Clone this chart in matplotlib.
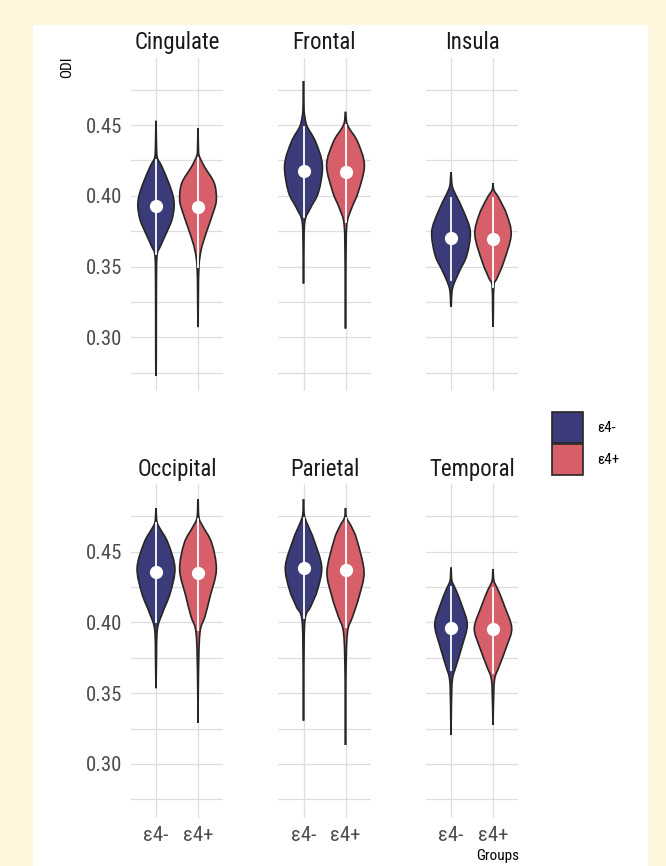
import matplotlib
matplotlib.use('Agg')
import matplotlib.pyplot as plt
import numpy as np
from matplotlib import font_manager
from matplotlib.path import Path
from matplotlib.patches import PathPatch, Patch, Rectangle

regions = ['Cingulate', 'Frontal', 'Insula', 'Occipital', 'Parietal', 'Temporal']
groups = ['ε4-', 'ε4+']
colors = ['#3b3b7a', '#d65f6a']

yticks = [0.30, 0.35, 0.40, 0.45]
yminor = [0.275, 0.325, 0.375, 0.425, 0.475]

# median (white dot) per region
median_neg = [0.3925, 0.4175, 0.3699, 0.4354, 0.4383, 0.3959]
median_pos = [0.3920, 0.4170, 0.3694, 0.4347, 0.4371, 0.3955]

# white line (low, high) per region
whisker_neg = [(0.359, 0.4254), (0.3852, 0.4488), (0.3405, 0.3982),
               (0.4005, 0.470), (0.403, 0.4736), (0.3664, 0.425)]
whisker_pos = [(0.350, 0.4266), (0.3817, 0.450), (0.3357, 0.3982),
               (0.3947, 0.473), (0.397, 0.4736), (0.364, 0.4241)]

# violin outlines: (ODI, relative density), top tip to bottom tip
cingulate_neg = [(0.453, 0), (0.436, 0.025), (0.427, 0.07), (0.421, 0.30), (0.409, 0.68),
                 (0.400, 0.90), (0.3925, 0.96), (0.383, 0.84), (0.3737, 0.55), (0.364, 0.22),
                 (0.357, 0.05), (0.33, 0.02), (0.29, 0.015), (0.2728, 0)]
cingulate_pos = [(0.4477, 0), (0.432, 0.025), (0.4277, 0.08), (0.4206, 0.34), (0.409, 0.86),
                 (0.3972, 0.97), (0.388, 0.80), (0.3737, 0.43), (0.362, 0.17), (0.3502, 0.05),
                 (0.33, 0.02), (0.3073, 0)]
frontal_neg = [(0.4811, 0), (0.462, 0.025), (0.4559, 0.07), (0.4488, 0.20), (0.4382, 0.64),
               (0.4217, 1.0), (0.4029, 0.80), (0.3911, 0.36), (0.3817, 0.07), (0.36, 0.02),
               (0.3381, 0)]
frontal_pos = [(0.4594, 0), (0.452, 0.06), (0.4476, 0.20), (0.4382, 0.64), (0.4217, 1.0),
               (0.4029, 0.68), (0.3911, 0.32), (0.3793, 0.07), (0.35, 0.02), (0.3063, 0)]
insula_neg = [(0.4166, 0), (0.409, 0.04), (0.4053, 0.10), (0.4005, 0.26), (0.3887, 0.68),
              (0.3746, 1.02), (0.3581, 0.84), (0.3463, 0.43), (0.3346, 0.08), (0.3216, 0)]
insula_pos = [(0.4088, 0), (0.404, 0.05), (0.3982, 0.32), (0.3864, 0.74), (0.3723, 0.96),
              (0.3534, 0.57), (0.3417, 0.21), (0.337, 0.05), (0.32, 0.02), (0.3075, 0)]
occipital_neg = [(0.4807, 0), (0.474, 0.025), (0.470, 0.07), (0.4665, 0.20), (0.4559, 0.64),
                 (0.4383, 1.0), (0.4206, 0.75), (0.4065, 0.34), (0.3947, 0.07), (0.37, 0.02),
                 (0.3535, 0)]
occipital_pos = [(0.487, 0), (0.474, 0.05), (0.4677, 0.26), (0.4559, 0.73), (0.4371, 0.97),
                 (0.4182, 0.64), (0.4041, 0.37), (0.3923, 0.10), (0.36, 0.02), (0.3292, 0)]
parietal_neg = [(0.487, 0), (0.478, 0.025), (0.4736, 0.08), (0.4677, 0.26), (0.4583, 0.55),
                (0.4394, 0.96), (0.4229, 0.74), (0.4111, 0.38), (0.4017, 0.08), (0.37, 0.02),
                (0.3306, 0)]
parietal_pos = [(0.4807, 0), (0.474, 0.05), (0.4677, 0.31), (0.4583, 0.60), (0.4359, 0.98),
                (0.4182, 0.72), (0.4041, 0.38), (0.3923, 0.10), (0.36, 0.02), (0.3134, 0)]
temporal_neg = [(0.4387, 0), (0.431, 0.03), (0.4277, 0.09), (0.4229, 0.26), (0.4111, 0.60),
                (0.3982, 0.86), (0.3829, 0.58), (0.3687, 0.26), (0.3593, 0.07), (0.34, 0.02),
                (0.3205, 0)]
temporal_pos = [(0.4376, 0), (0.431, 0.03), (0.4277, 0.09), (0.4229, 0.27), (0.4111, 0.62),
                (0.396, 0.99), (0.3829, 0.72), (0.3687, 0.32), (0.3593, 0.08), (0.34, 0.02),
                (0.3275, 0)]

profiles_neg = [cingulate_neg, frontal_neg, insula_neg, occipital_neg, parietal_neg, temporal_neg]
profiles_pos = [cingulate_pos, frontal_pos, insula_pos, occipital_pos, parietal_pos, temporal_pos]

# font: condensed look if available
installed = {f.name for f in font_manager.fontManager.ttflist}
family = 'DejaVu Sans'
for fam in ['Roboto Condensed', 'Liberation Sans Narrow', 'Roboto']:
    if fam in installed:
        family = fam
        break
plt.rcParams['font.family'] = [family, 'DejaVu Sans']


def violin_path(center, prof, width=0.45):
    ys = np.array([p[0] for p in prof])
    ds = np.array([p[1] for p in prof]) * width
    right = np.column_stack([center + ds, ys])
    left = np.column_stack([center - ds, ys])[::-1][1:-1]
    pts = np.vstack([right, left])
    n = len(pts)
    verts = [pts[0]]
    codes = [Path.MOVETO]
    # smooth closed outline (Catmull-Rom -> Bezier)
    for i in range(n):
        p0, p1, p2, p3 = pts[i - 1], pts[i], pts[(i + 1) % n], pts[(i + 2) % n]
        verts += [p1 + (p2 - p0) / 6, p2 - (p3 - p1) / 6, p2]
        codes += [Path.CURVE4] * 3
    verts.append(pts[0])
    codes.append(Path.CLOSEPOLY)
    return Path(verts, codes)


all_y = [p[0] for prof in profiles_neg + profiles_pos for p in prof]
ymin, ymax = min(all_y), max(all_y)
pad = 0.05 * (ymax - ymin)

W, H = 666, 866
fig = plt.figure(figsize=(W / 100, H / 100), dpi=100)
fig.patch.set_facecolor('#fef7dd')
fig.add_artist(Rectangle((33 / W, 0), 615 / W, 1 - 25 / H, transform=fig.transFigure,
                         facecolor='white', edgecolor='none', zorder=0))

lefts = [130.8, 278.3, 425.8]
tops = [57.5, 484.0]
pw, ph = 92.4, 333.6
grid_c = '#dedede'
tick_c = '#4d4d4d'

for k, region in enumerate(regions):
    row, col = divmod(k, 3)
    ax = fig.add_axes([lefts[col] / W, 1 - (tops[row] + ph) / H, pw / W, ph / H])
    ax.set_facecolor('none')
    ax.set_xlim(0.4, 2.6)
    ax.set_ylim(ymin - pad, ymax + pad)
    for yv in yticks + yminor:
        ax.axhline(yv, color=grid_c, lw=0.9, zorder=0)
    for xv in (1, 2):
        ax.axvline(xv, color=grid_c, lw=0.9, zorder=0)

    stats = [(profiles_neg[k], median_neg[k], whisker_neg[k]),
             (profiles_pos[k], median_pos[k], whisker_pos[k])]
    for g, (prof, med, (lo, hi)) in enumerate(stats):
        c = g + 1
        ax.add_patch(PathPatch(violin_path(c, prof), facecolor=colors[g],
                               edgecolor='#262626', lw=1.2, zorder=2))
        ax.plot([c, c], [lo, hi], color='white', lw=1.3, zorder=3)
        ax.plot(c, med, 'o', color='white', ms=9.5, mec='none', zorder=4)

    for s in ax.spines.values():
        s.set_visible(False)
    ax.set_xticks([1, 2])
    ax.set_yticks(yticks)
    ax.tick_params(length=0, labelsize=15, colors=tick_c, pad=6)
    if row == 1:
        ax.set_xticklabels(groups)
    else:
        ax.set_xticklabels([])
    if col == 0:
        ax.set_yticklabels([f'{v:.2f}' for v in yticks])
    else:
        ax.set_yticklabels([])
    ax.set_title(region, fontsize=16.5, color='#1a1a1a', pad=6)

fig.text(67 / W, 1 - 57 / H, 'ODI', rotation=90, ha='center', va='top', fontsize=11)
fig.text(519 / W, 1 - 856 / H, 'Groups', ha='right', va='center', fontsize=11)

handles = [Patch(facecolor=colors[g], edgecolor='#262626', lw=1.2) for g in range(2)]
fig.legend(handles, groups, loc='center left', bbox_to_anchor=(552 / W, 1 - 443.5 / H),
           frameon=False, fontsize=11, handlelength=2.03, handleheight=2.74,
           labelspacing=0.1, handletextpad=0.9, borderpad=0, borderaxespad=0)

fig.savefig('out.png', dpi=100, facecolor=fig.get_facecolor())
